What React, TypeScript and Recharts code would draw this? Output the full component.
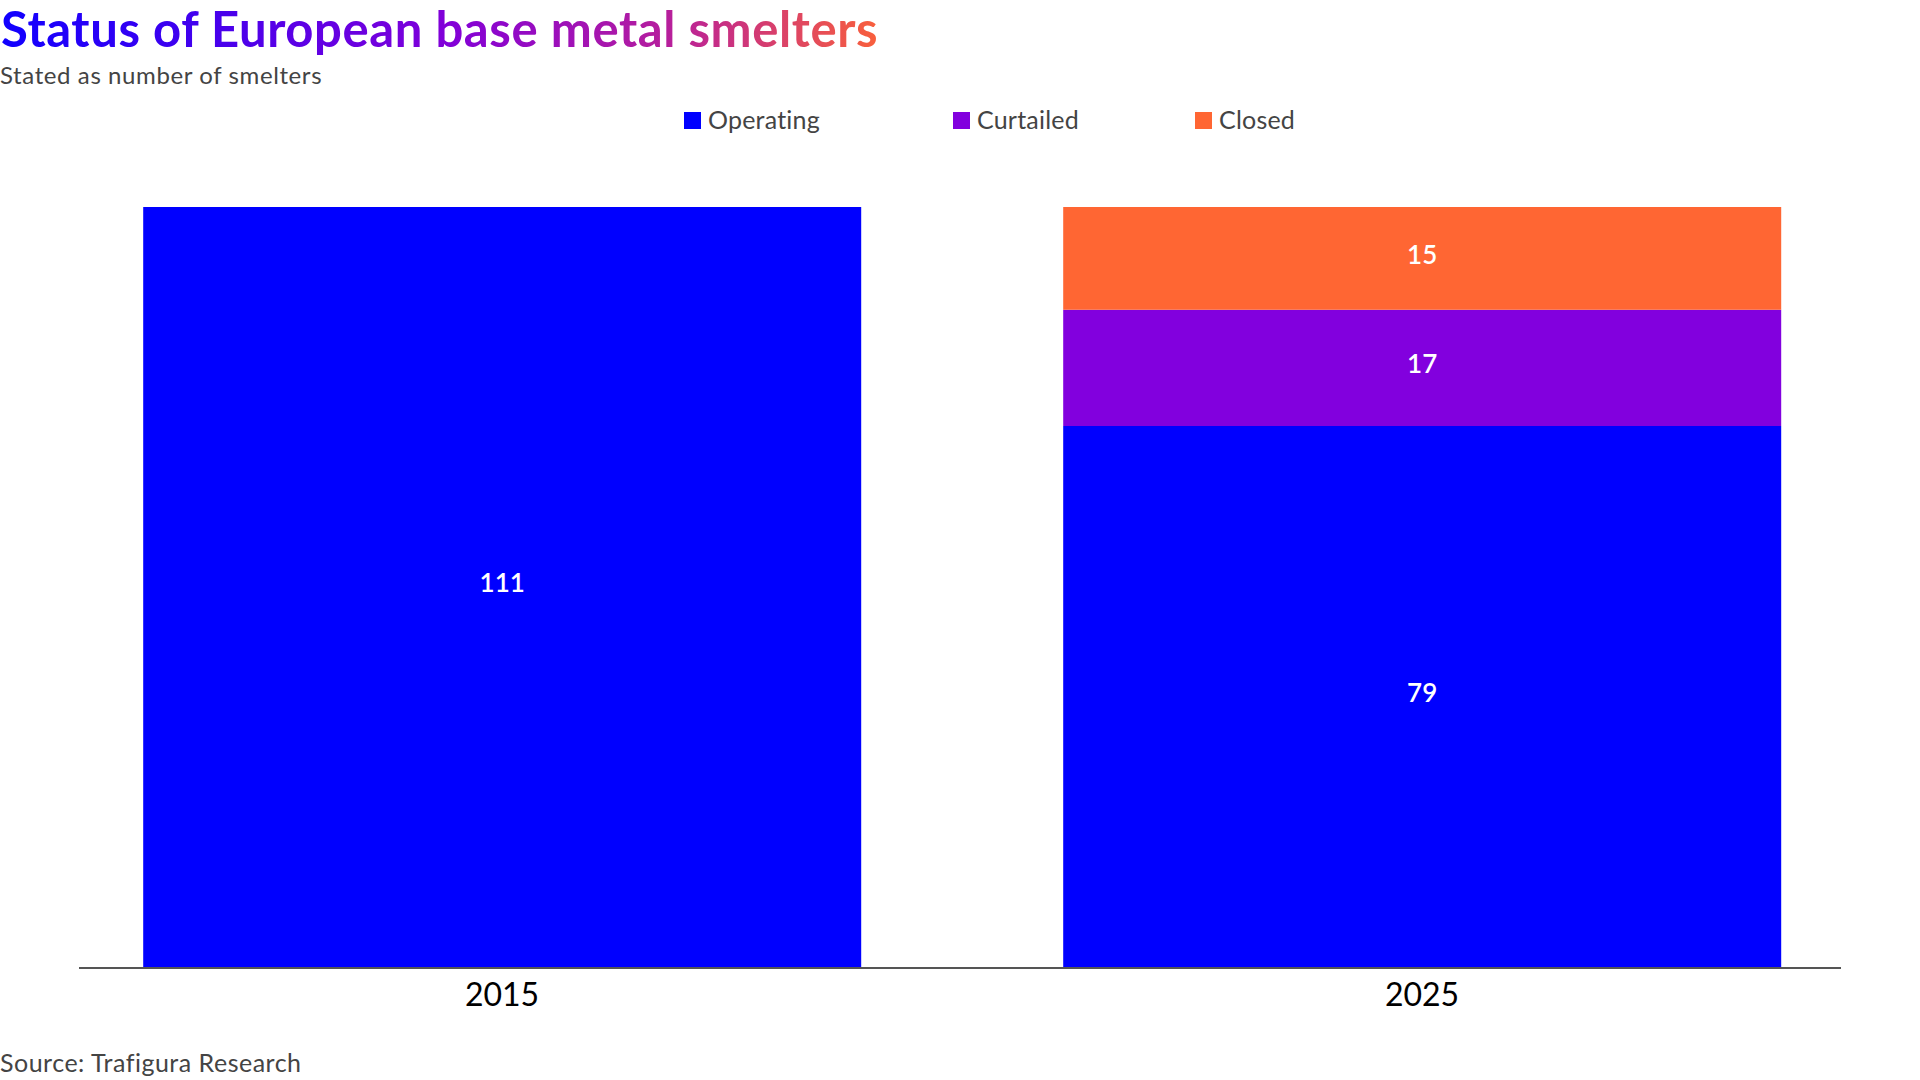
import { Bar, BarChart, LabelList, XAxis, YAxis } from "recharts";

const years = ["2015", "2025"];
const operating = [111, 79];
const curtailed = [null, 17];
const closed = [null, 15];

const seriesNames = ["Operating", "Curtailed", "Closed"];
const seriesKeys = ["operating", "curtailed", "closed"];
const seriesColors = ["#0000ff", "#8200de", "#ff6633"];

const data = years.map((year, i) => ({
  year,
  operating: operating[i],
  curtailed: curtailed[i],
  closed: closed[i],
}));

const FONT = "Lato, 'Noto Sans', sans-serif";

export default function App() {
  return (
    <div
      style={{
        position: "absolute",
        left: 0,
        top: 0,
        width: 1920,
        height: 1080,
        background: "#fff",
        fontFamily: FONT,
      }}
    >
      <BarChart
        width={1920}
        height={1080}
        data={data}
        margin={{ top: 207, right: 38, left: 42, bottom: 53 }}
        barCategoryGap="11%"
      >
        <XAxis
          dataKey="year"
          height={60}
          axisLine={false}
          tickLine={false}
          tickSize={0}
          tickMargin={16}
          tick={{ fill: "#000", fontSize: 32, fontFamily: FONT }}
        />
        <YAxis hide domain={[0, 111]} />
        {seriesKeys.map((key, i) => (
          <Bar
            key={key}
            dataKey={key}
            name={seriesNames[i]}
            stackId="a"
            fill={seriesColors[i]}
            isAnimationActive={false}
          >
            <LabelList
              dataKey={key}
              position="center"
              fill="#fff"
              fontSize={26}
              fontWeight={600}
              fontFamily={FONT}
              dy={-4}
              formatter={(v: any) => (v ? v : "")}
            />
          </Bar>
        ))}
      </BarChart>

      <svg
        width={1920}
        height={1080}
        style={{ position: "absolute", left: 0, top: 0, pointerEvents: "none" }}
      >
        <defs>
          <linearGradient id="titleGrad" x1="0" y1="0" x2="898" y2="0" gradientUnits="userSpaceOnUse">
            <stop offset="0" stopColor="#1000ff" />
            <stop offset="0.5" stopColor="#8200d8" />
            <stop offset="0.75" stopColor="#b8209a" />
            <stop offset="1" stopColor="#ff6633" />
          </linearGradient>
        </defs>
        <text x={1} y={47} fontSize={49} fontWeight={700} letterSpacing={0.6} fill="url(#titleGrad)" fontFamily={FONT}>
          Status of European base metal smelters
        </text>
        <text x={0} y={84} fontSize={24} letterSpacing={0.6} fill="#444" fontFamily={FONT}>
          Stated as number of smelters
        </text>
        {seriesNames.map((name, i) => {
          const x = [684, 953, 1195][i];
          return (
            <g key={name}>
              <rect x={x} y={112} width={17} height={17} fill={seriesColors[i]} />
              <text x={x + 24} y={129} fontSize={25} letterSpacing={0.2} fill="#444" fontFamily={FONT}>
                {name}
              </text>
            </g>
          );
        })}
        <line x1={79} x2={1841} y1={968} y2={968} stroke="#555" strokeWidth={2} />
        <text x={0} y={1072} fontSize={25} letterSpacing={0.5} fill="#444" fontFamily={FONT}>
          Source: Trafigura Research
        </text>
      </svg>
    </div>
  );
}
